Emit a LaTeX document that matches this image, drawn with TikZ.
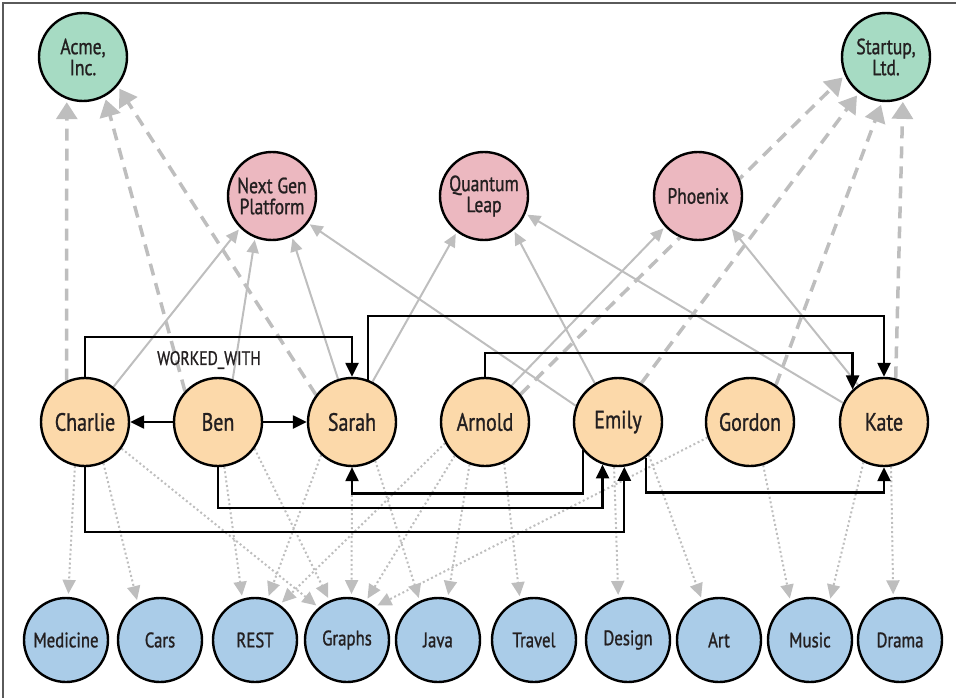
\documentclass[tikz,border=0pt]{standalone}
\usepackage{fontspec}
\setmainfont{PT Sans}[FakeStretch=0.8,FakeBold=1]
\usetikzlibrary{arrows.meta,backgrounds}
\definecolor{cmpfill}{RGB}{166,219,195}
\definecolor{prjfill}{RGB}{236,184,192}
\definecolor{perfill}{RGB}{252,217,170}
\definecolor{sklfill}{RGB}{170,204,232}
\definecolor{edgegray}{RGB}{190,190,190}
\definecolor{txt}{RGB}{35,31,32}
\definecolor{framegray}{RGB}{90,90,90}
\begin{document}
\begin{tikzpicture}[x=1pt,y=-1pt,
  base/.style={circle,draw=black,line width=2.4pt,inner sep=0pt,text=txt,align=center},
  company/.style={base,fill=cmpfill,minimum size=88pt,font=\fontsize{22}{21}\selectfont},
  project/.style={base,fill=prjfill,minimum size=88pt,font=\fontsize{22}{21}\selectfont},
  person/.style={base,fill=perfill,minimum size=88pt,font=\fontsize{25}{25}\selectfont},
  skill/.style={base,fill=sklfill,minimum size=84pt,font=\fontsize{21}{21}\selectfont},
  worksfor/.style={draw=edgegray,line width=3.5pt,dash pattern=on 12pt off 8pt,-{Triangle[length=17pt,width=21pt]},shorten >=3pt},
  workedon/.style={draw=edgegray,line width=2pt,-{Triangle[length=13pt,width=12pt]},shorten >=2pt},
  interest/.style={draw=edgegray,line width=2pt,dash pattern=on 2pt off 2.6pt,-{Triangle[length=14pt,width=13pt]},shorten >=3pt},
  wwith/.style={draw=black,line width=2.4pt,-{Triangle[length=14pt,width=13pt]}},
  wlabel/.style={text=txt,font=\fontsize{19.5}{19.5}\selectfont}
]
\useasboundingbox (0,0) rectangle (956,698);
\draw[framegray,line width=1.2pt] (3,698) -- (3,3) -- (956,3);

% companies and projects
\node[company] (acme) at (83,57) {Acme,\\Inc.};
\node[company] (startup) at (886,57) {Startup,\\Ltd.};
\node[project] (ngp) at (272,196) {Next Gen\\Platform};
\node[project] (ql) at (484,196) {Quantum\\Leap};
\node[project] (phoenix) at (698,196) {Phoenix};
% people
\node[person] (charlie) at (85,422) {Charlie};
\node[person] (ben) at (218,422) {Ben};
\node[person] (sarah) at (352,422) {Sarah};
\node[person] (arnold) at (485,422) {Arnold};
\node[person] (emily) at (618,422) {Emily};
\node[person] (gordon) at (750,422) {Gordon};
\node[person] (kate) at (884,422) {Kate};
% skills
\node[skill] (medicine) at (66,640) {Medicine};
\node[skill] (cars) at (160,640) {Cars};
\node[skill] (rest) at (255,640) {REST};
\node[skill] (graphs) at (347,640) {Graphs};
\node[skill] (java) at (438,640) {Java};
\node[skill] (travel) at (534,640) {Travel};
\node[skill] (design) at (628,640) {Design};
\node[skill] (art) at (719,640) {Art};
\node[skill] (music) at (810,640) {Music};
\node[skill] (drama) at (900,640) {Drama};
% label
\node[wlabel] (wwlabel) at (209,360) {WORKED\_WITH};

\begin{pgfonlayer}{background}
% WORKS_FOR
\draw[worksfor] (charlie.114) -- (acme.249);
\draw[worksfor] (ben.137) -- (acme.299);
\draw[worksfor] (sarah.143) -- (acme.320);
\draw[worksfor] (arnold.38) -- (startup.204);
\draw[worksfor] (emily.59) -- (startup.233);
\draw[worksfor] (gordon.55) -- (startup.265);
\draw[worksfor] (kate.75) -- (startup.292);
% WORKED_ON
\draw[workedon] (charlie.51) -- (ngp.225);
\draw[workedon] (ben.71) -- (ngp.248);
\draw[workedon] (sarah.108) -- (ngp.296);
\draw[workedon] (emily.159) -- (ngp.323);
\draw[workedon] (sarah.63) -- (ql.233);
\draw[workedon] (emily.121) -- (ql.311);
\draw[workedon] (kate.155) -- (ql.337);
\draw[workedon] (arnold.54) -- (phoenix.223);
\draw[workedon] (kate.125) -- (phoenix.316);
% INTERESTED_IN
\draw[interest] (charlie.257) -- (medicine.87);
\draw[interest] (charlie.294) -- (cars.121);
\draw[interest] (charlie.324) -- (graphs.131);
\draw[interest] (ben.278) -- (rest.107);
\draw[interest] (ben.324) -- (graphs.114);
\draw[interest] (sarah.227) -- (rest.73);
\draw[interest] (sarah.270) -- (graphs.84);
\draw[interest] (sarah.301) -- (java.115);
\draw[interest] (arnold.208) -- (rest.55);
\draw[interest] (arnold.228) -- (graphs.64);
\draw[interest] (arnold.250) -- (java.77);
\draw[interest] (arnold.295) -- (travel.109);
\draw[interest] (gordon.200) -- (graphs.50);
\draw[interest] (emily.265) -- (design.103);
\draw[interest] (emily.313) -- (art.113);
\draw[interest] (gordon.287) -- (music.117);
\draw[interest] (kate.243) -- (music.63);
\draw[interest] (kate.279) -- (drama.99);
% WORKED_WITH
\draw[wwith] (charlie.north) -- ++(0,-40) -| (sarah.north);
\draw[wwith] (ben.west) -- (charlie.east);
\draw[wwith] (ben.east) -- (sarah.west);
\draw[wwith] (sarah.69) -- ++(0,-64) -| (kate.north);
\draw[wwith] (arnold.north) -- ++(0,-24) -| (kate.134);
\draw[wwith] (emily.219) -- ++(0,43) -| (sarah.south);
\draw[wwith] (ben.south) -- ++(0,41) -| (emily.250);
\draw[wwith] (charlie.south) -- ++(0,65) -| (emily.278);
\draw[wwith] (emily.308) -- ++(0,35) -| (kate.south);
\end{pgfonlayer}
\end{tikzpicture}
\end{document}
